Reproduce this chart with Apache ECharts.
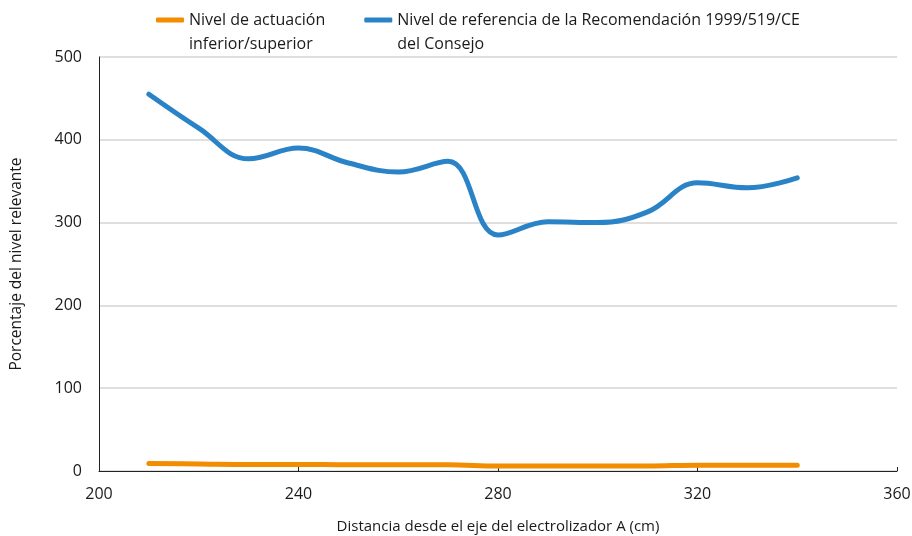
<!DOCTYPE html>
<html lang="es">
<head>
    <meta charset="UTF-8">
    <title>Porcentaje del nivel relevante</title>
    <style>
        html, body { margin: 0; padding: 0; background: #fff; }
    </style>
</head>
<body>
<div id="main" style="width:912px;height:536px;"></div>

<script src="https://cdn.jsdelivr.net/npm/echarts@6/dist/echarts.min.js"></script>
<script>
    // distancia (cm)
    var distancias = [210, 220, 230, 240, 250, 260, 270, 280, 290, 300, 310, 320, 330, 340];
    var nivelActuacion = [9, 8.5, 8, 8, 7.5, 7.5, 7.5, 6, 6, 6, 6, 7, 7, 7];
    var nivelReferencia = [455, 414, 377, 390, 372, 361, 374, 285, 301, 300, 313, 348, 342, 354];
    var yTicks = [0, 100, 200, 300, 400, 500];

    var nombres = [
        'Nivel de actuación\ninferior/superior',
        'Nivel de referencia de la Recomendación 1999/519/CE\ndel Consejo'
    ];

    function pares(xs, ys) {
        return xs.map(function (x, i) { return [x, ys[i]]; });
    }

    var fuente = '"Open Sans", "Noto Sans", sans-serif';
    var myChart = echarts.init(document.getElementById('main'));

    myChart.setOption({
        animation: false,
        textStyle: { fontFamily: fuente, color: '#1a1a1a' },
        color: ['#F28C00', '#2A83C7'],
        legend: {
            left: 151,
            top: -21,
            itemGap: 39,
            itemWidth: 28,
            itemHeight: 5,
            icon: 'roundRect',
            // linea vacia arriba para que el icono quede en la primera linea
            formatter: function (name) { return ' \n' + name; },
            textStyle: {
                fontFamily: fuente,
                fontSize: 16,
                color: '#1a1a1a',
                lineHeight: 24
            },
            data: nombres
        },
        grid: {
            left: 99,
            right: 15,
            top: 57,
            bottom: 65,
            outerBoundsMode: 'none'
        },
        xAxis: {
            type: 'value',
            min: 200,
            max: 360,
            interval: 40,
            name: 'Distancia desde el eje del electrolizador A (cm)',
            nameLocation: 'middle',
            nameGap: 48,
            nameTextStyle: { fontFamily: fuente, fontSize: 15, color: '#1a1a1a' },
            axisLine: { lineStyle: { color: '#222', width: 1 } },
            axisTick: { show: true, inside: true, length: 4, lineStyle: { color: '#222' } },
            axisLabel: { fontFamily: fuente, fontSize: 16, color: '#1a1a1a', margin: 15 },
            splitLine: { show: false }
        },
        yAxis: {
            type: 'value',
            min: yTicks[0],
            max: yTicks[yTicks.length - 1],
            interval: 100,
            name: 'Porcentaje del nivel relevante',
            nameLocation: 'middle',
            nameGap: 74,
            nameTextStyle: { fontFamily: fuente, fontSize: 15.5, color: '#1a1a1a' },
            axisLine: { show: true, lineStyle: { color: '#222', width: 1 } },
            axisTick: { show: false },
            axisLabel: { fontFamily: fuente, fontSize: 16, color: '#1a1a1a', margin: 17 },
            splitLine: { show: true, lineStyle: { color: '#d4d4d4', width: 1.5 } }
        },
        series: [{
            name: nombres[0],
            type: 'line',
            smooth: 0.4,
            showSymbol: false,
            lineStyle: { width: 5, cap: 'round' },
            data: pares(distancias, nivelActuacion)
        }, {
            name: nombres[1],
            type: 'line',
            smooth: 0.4,
            showSymbol: false,
            lineStyle: { width: 5, cap: 'round' },
            data: pares(distancias, nivelReferencia)
        }]
    });
</script>
</body>
</html>
